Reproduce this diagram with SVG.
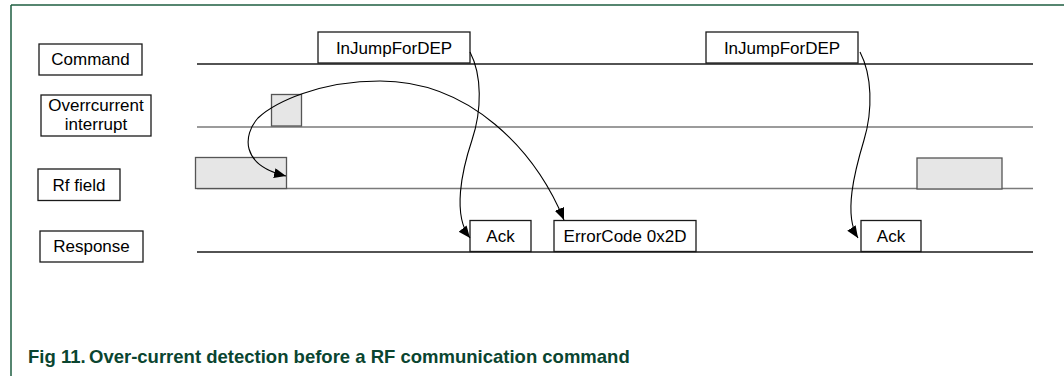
<svg xmlns="http://www.w3.org/2000/svg" width="1064" height="376" viewBox="0 0 1064 376">
<style>
.box{fill:#fff;stroke:#1a1a1a;stroke-width:1.3}
.gbox{fill:#e6e6e6;stroke:#555;stroke-width:1.3}
.lbl{font-family:"Liberation Sans",Arial,sans-serif;font-size:17px;fill:#000;text-anchor:middle}
.tl{stroke:#1a1a1a;stroke-width:1.3;fill:none}
.tg{stroke:#7a7a7a;stroke-width:1.6;fill:none}
.arr{stroke:#000;stroke-width:1.1;fill:none;marker-end:url(#ah)}
.cap{font-family:"Liberation Sans",Arial,sans-serif;font-size:18.5px;font-weight:bold;fill:#0a4530}
</style>
<defs>
<marker id="ah" markerUnits="userSpaceOnUse" markerWidth="13" markerHeight="11" refX="12" refY="5" orient="auto-start-reverse" viewBox="0 0 13 11">
<path d="M0,0 L12,5 L0,10 z" fill="#000"/>
</marker>
</defs>
<rect width="1064" height="376" fill="#fff"/>
<g id="frame">
<line x1="11" y1="5" x2="1064" y2="5" stroke="#1e5e40" stroke-width="1.5"/>
<line x1="11" y1="5" x2="11" y2="376" stroke="#1e5e40" stroke-width="1.5"/>
</g>
<g id="timelines">
<line class="tl" x1="197" y1="64" x2="1033" y2="64"/>
<line class="tg" x1="197" y1="127" x2="1033" y2="127"/>
<line class="tg" x1="197" y1="188.5" x2="1033" y2="188.5"/>
<line class="tl" x1="197" y1="252" x2="1033" y2="252"/>
</g>
<g id="label-command"><rect class="box" x="39" y="44" width="103" height="31"/><text class="lbl" x="90.5" y="65">Command</text></g>
<g id="label-overcurrent"><rect class="box" x="41" y="95" width="110" height="41"/><text class="lbl" x="96" y="110.5">Overrcurrent</text><text class="lbl" x="96" y="130">interrupt</text></g>
<g id="label-rffield"><rect class="box" x="38" y="169" width="82" height="31.5"/><text class="lbl" x="79" y="190.5">Rf field</text></g>
<g id="label-response"><rect class="box" x="40" y="231" width="103" height="31"/><text class="lbl" x="91.5" y="252">Response</text></g>
<g id="cmd1"><rect class="box" x="318" y="32" width="152" height="31"/><text class="lbl" x="394" y="53.5">InJumpForDEP</text></g>
<g id="cmd2"><rect class="box" x="706" y="32" width="152" height="31"/><text class="lbl" x="782" y="53.5">InJumpForDEP</text></g>
<g id="oc-pulse"><rect class="gbox" x="271.5" y="94.5" width="30" height="31.5"/></g>
<g id="rf1"><rect class="gbox" x="195.5" y="157.5" width="91" height="31"/></g>
<g id="rf2"><rect class="gbox" x="917" y="158" width="85" height="31"/></g>
<g id="ack1"><rect class="box" x="470" y="220.5" width="61" height="31"/><text class="lbl" x="500.5" y="242">Ack</text></g>
<g id="error"><rect class="box" x="554" y="220.5" width="142" height="31"/><text class="lbl" x="625" y="242">ErrorCode 0x2D</text></g>
<g id="ack2"><rect class="box" x="861" y="220.5" width="60" height="31"/><text class="lbl" x="891" y="242">Ack</text></g>
<g id="connectors">
<path class="arr" style="marker-start:url(#ah)" d="M564,220 C535,150 470,81 380,81 C320,81 275,102 258,118 C243,135 240,165 286,176"/>
<path class="arr" d="M470,52 C482,75 482,110 472,140 C462,170 452,215 470,238"/>
<path class="arr" d="M860,52 C872,75 873,110 864,140 C855,170 843,215 858,238"/>
</g>
<text class="cap" x="28" y="363">Fig 11.<tspan x="89">Over-current detection before a RF communication command</tspan></text>
</svg>
